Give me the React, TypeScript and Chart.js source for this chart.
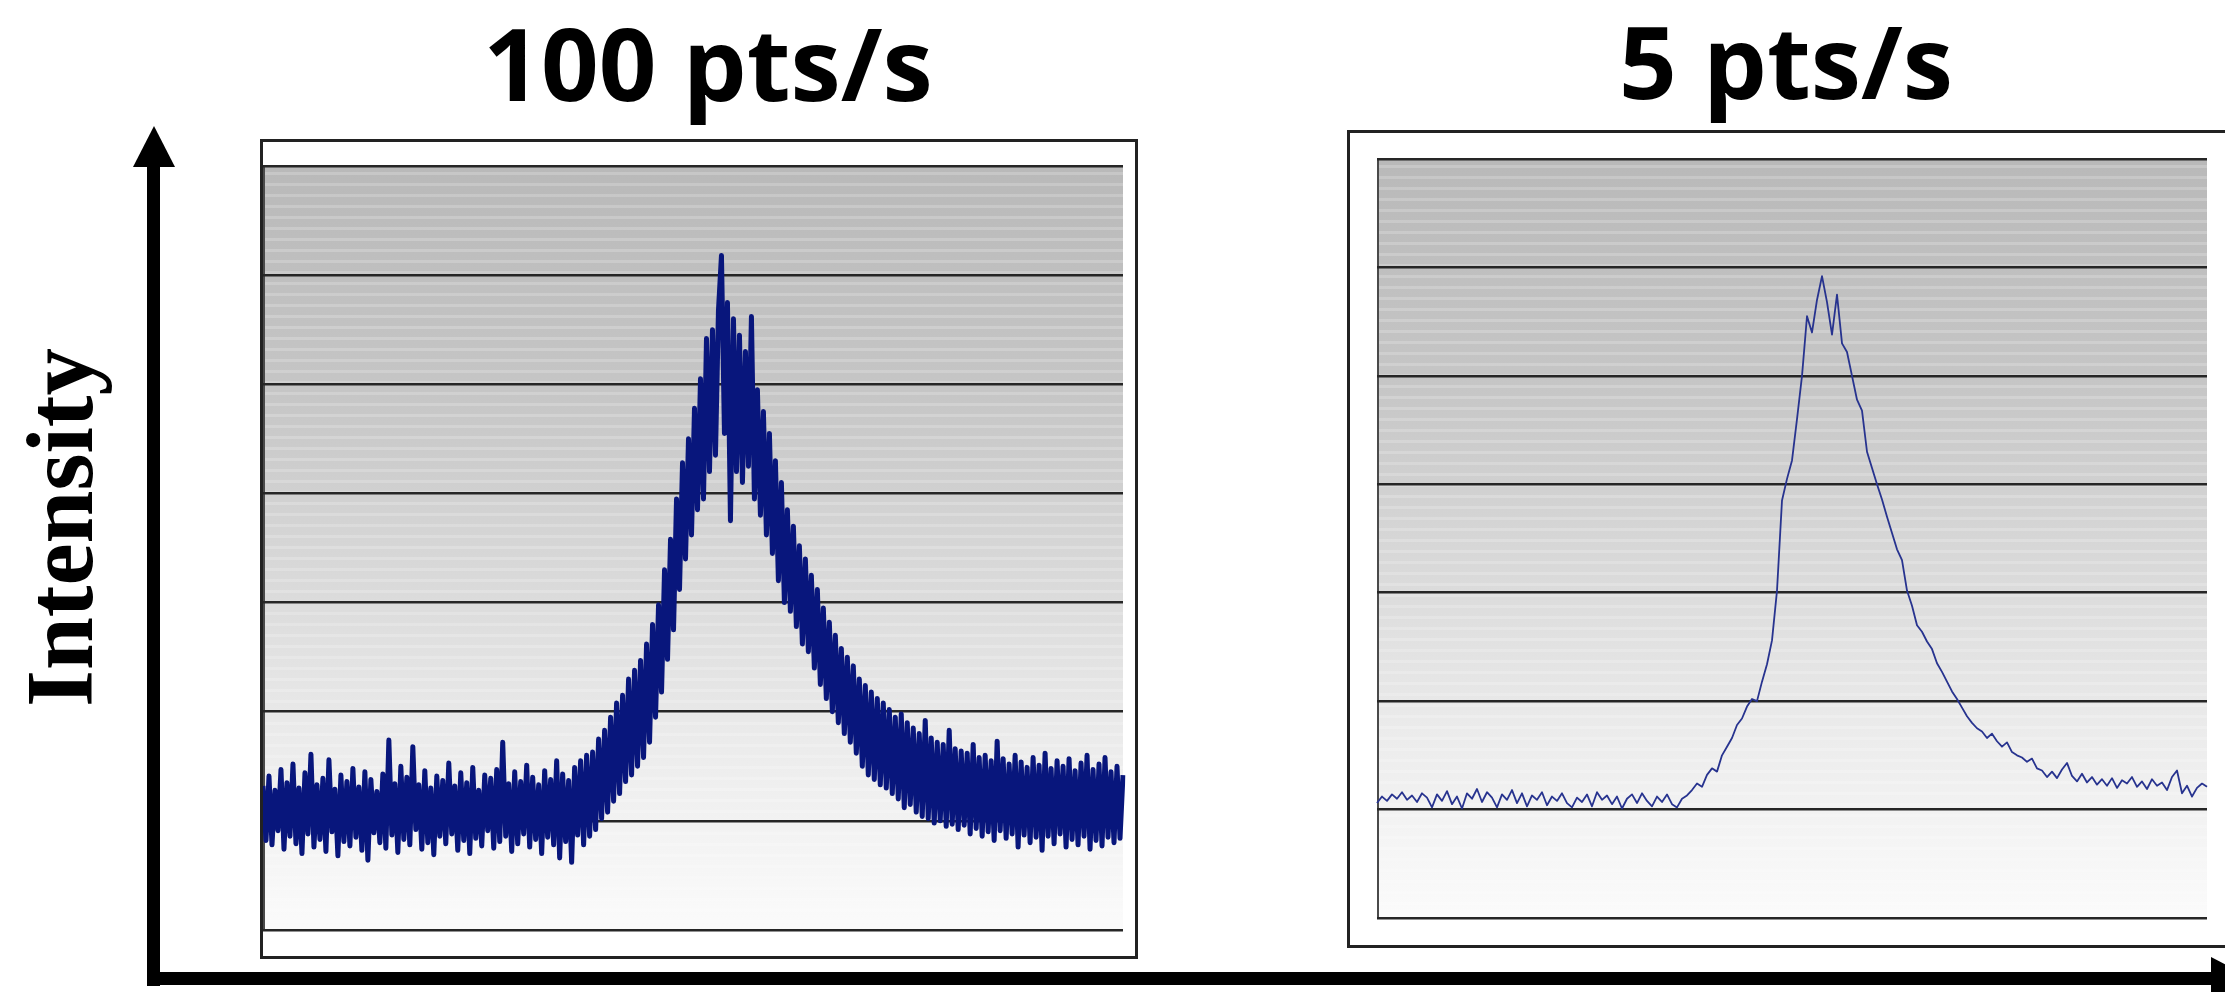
import React, { useEffect, useRef } from 'react';
import { Chart, registerables } from 'chart.js';

Chart.register(...registerables);

// ---------- data ----------
const Y_MIN = 0;
const Y_MAX = 7;
const FAST_TITLE = '100 pts/s';
const SLOW_TITLE = '5 pts/s';
const Y_LABEL = 'Intensity';

// 100 pts/s trace (intensity, arbitrary units, gridline = 1 unit)
const fastValues = [
  1.32, 0.82, 1.41, 0.78, 1.28, 0.91, 1.47, 0.74, 1.35, 0.86,
  1.52, 0.79, 1.30, 0.70, 1.44, 0.88, 1.61, 0.76, 1.33, 0.83,
  1.39, 0.72, 1.56, 0.90, 1.29, 0.68, 1.42, 0.81, 1.36, 0.77,
  1.48, 0.85, 1.31, 0.73, 1.45, 0.64, 1.38, 0.89, 1.27, 0.80,
  1.43, 0.75, 1.74, 0.87, 1.34, 0.71, 1.50, 0.83, 1.40, 0.78,
  1.68, 0.92, 1.33, 0.74, 1.46, 0.80, 1.30, 0.69, 1.41, 0.86,
  1.37, 0.79, 1.53, 0.88, 1.32, 0.73, 1.44, 0.82, 1.35, 0.70,
  1.49, 0.84, 1.28, 0.77, 1.42, 0.91, 1.39, 0.75, 1.47, 0.81,
  1.72, 0.86, 1.34, 0.72, 1.45, 0.79, 1.36, 0.88, 1.51, 0.76,
  1.40, 0.83, 1.33, 0.70, 1.46, 0.85, 1.38, 0.78, 1.55, 0.66,
  1.43, 0.81, 1.37, 0.62, 1.49, 0.87, 1.55, 0.78, 1.60, 0.86,
  1.63, 0.92, 1.75, 1.02, 1.83, 1.08, 1.95, 1.18, 2.08, 1.25,
  2.15, 1.36, 2.30, 1.42, 2.38, 1.50, 2.47, 1.58, 2.62, 1.72,
  2.80, 1.95, 2.98, 2.18, 3.30, 2.48, 3.58, 2.75, 3.95, 3.12,
  4.28, 3.40, 4.50, 3.62, 4.78, 3.85, 5.05, 3.95, 5.42, 4.20,
  5.50, 4.35, 5.68, 6.18, 4.55, 5.75, 3.75, 5.60, 4.20, 5.45,
  4.10, 5.30, 4.25, 5.62, 3.95, 4.95, 3.80, 4.75, 3.62, 4.55,
  3.45, 4.30, 3.20, 4.10, 3.00, 3.85, 2.92, 3.70, 2.78, 3.52,
  2.62, 3.40, 2.55, 3.25, 2.40, 3.12, 2.25, 2.95, 2.12, 2.82,
  2.00, 2.70, 1.90, 2.58, 1.80, 2.50, 1.72, 2.42, 1.62, 2.30,
  1.50, 2.24, 1.42, 2.18, 1.38, 2.12, 1.33, 2.08, 1.30, 2.02,
  1.25, 1.95, 1.20, 1.98, 1.12, 1.90, 1.15, 1.85, 1.08, 1.80,
  1.04, 1.92, 1.02, 1.76, 0.98, 1.72, 1.00, 1.70, 0.95, 1.83,
  0.97, 1.66, 0.92, 1.64, 0.96, 1.62, 0.88, 1.70, 0.93, 1.58,
  0.86, 1.60, 0.90, 1.55, 0.82, 1.73, 0.91, 1.57, 0.84, 1.52,
  0.88, 1.60, 0.76, 1.54, 0.87, 1.49, 0.80, 1.58, 0.85, 1.51,
  0.73, 1.62, 0.86, 1.48, 0.79, 1.55, 0.88, 1.50, 0.76, 1.57,
  0.83, 1.46, 0.78, 1.53, 0.86, 1.60, 0.74, 1.47, 0.82, 1.52,
  0.77, 1.58, 0.85, 1.45, 0.80, 1.50, 0.84, 1.42,
];

// 5 pts/s trace
const slowValues = [
  1.06, 1.12, 1.08, 1.14, 1.10, 1.16, 1.09, 1.13, 1.07, 1.15,
  1.11, 1.02, 1.14, 1.08, 1.17, 1.05, 1.12, 1.01, 1.15, 1.10,
  1.19, 1.07, 1.16, 1.11, 1.02, 1.14, 1.09, 1.18, 1.06, 1.15,
  1.03, 1.13, 1.09, 1.16, 1.04, 1.12, 1.08, 1.15, 1.06, 1.02,
  1.11, 1.07, 1.14, 1.03, 1.16, 1.09, 1.13, 1.05, 1.12, 1.01,
  1.10, 1.14, 1.06, 1.15, 1.08, 1.03, 1.12, 1.07, 1.14, 1.05,
  1.02, 1.10, 1.13, 1.18, 1.24, 1.21, 1.32, 1.38, 1.35, 1.50,
  1.58, 1.66, 1.78, 1.84, 1.95, 2.02, 2.00, 2.18, 2.34, 2.56,
  3.02, 3.85, 4.05, 4.22, 4.60, 5.00, 5.55, 5.40, 5.70, 5.92,
  5.68, 5.38, 5.75, 5.30, 5.22, 5.00, 4.78, 4.68, 4.30, 4.15,
  4.00, 3.86, 3.70, 3.55, 3.40, 3.30, 3.02, 2.88, 2.70, 2.64,
  2.55, 2.48, 2.35, 2.27, 2.18, 2.09, 2.02, 1.94, 1.86, 1.80,
  1.75, 1.72, 1.66, 1.70, 1.63, 1.58, 1.62, 1.53, 1.50, 1.48,
  1.44, 1.47, 1.38, 1.36, 1.30, 1.35, 1.29, 1.37, 1.43, 1.31,
  1.26, 1.33, 1.25, 1.30, 1.23, 1.28, 1.22, 1.29, 1.20, 1.27,
  1.24, 1.30, 1.21, 1.26, 1.19, 1.28, 1.22, 1.25, 1.18, 1.30,
  1.36, 1.15, 1.22, 1.12, 1.20, 1.24, 1.21,
];

// sample numbers (x categories)
const fastLabels = fastValues.map((_, i) => String(i));
const slowLabels = slowValues.map((_, i) => String(i));

// ---------- plugin: gradient plot background ----------
const panelBg = {
  id: 'panelBg',
  beforeDraw(chart: any) {
    const { ctx, chartArea: a } = chart;
    if (!a) return;
    ctx.save();
    const g = ctx.createLinearGradient(0, a.top, 0, a.bottom);
    g.addColorStop(0, '#b9b9b9');
    g.addColorStop(0.3, '#c6c6c6');
    g.addColorStop(0.55, '#dadada');
    g.addColorStop(0.75, '#ebebeb');
    g.addColorStop(1, '#fbfbfb');
    ctx.fillStyle = g;
    ctx.fillRect(a.left, a.top, a.right - a.left, a.bottom - a.top);
    ctx.fillStyle = 'rgba(255,255,255,0.20)';
    for (let y = a.top + 6; y < a.bottom; y += 11) {
      ctx.fillRect(a.left, y, a.right - a.left, 3);
    }
    ctx.strokeStyle = '#4a4a4a';
    ctx.lineWidth = 2;
    ctx.beginPath();
    ctx.moveTo(a.left + 1, a.top);
    ctx.lineTo(a.left + 1, a.bottom);
    ctx.stroke();
    ctx.restore();
  },
};

type PanelProps = {
  left: number;
  top: number;
  width: number;
  height: number;
  padding: { left: number; top: number; right: number; bottom: number };
  labels: string[];
  values: number[];
  color: string;
  lineWidth: number;
};

function Panel(p: PanelProps) {
  const ref = useRef<HTMLCanvasElement>(null);
  const cw = p.width - 6;
  const ch = p.height - 6;
  useEffect(() => {
    if (!ref.current) return;
    const chart = new Chart(ref.current, {
      type: 'line',
      data: {
        labels: p.labels,
        datasets: [
          {
            data: p.values,
            borderColor: p.color,
            borderWidth: p.lineWidth,
            borderJoinStyle: 'round',
            pointRadius: 0,
            tension: 0,
            fill: false,
          },
        ],
      },
      options: {
        animation: false,
        responsive: false,
        maintainAspectRatio: false,
        devicePixelRatio: 1,
        events: [],
        layout: { padding: p.padding },
        plugins: { legend: { display: false }, tooltip: { enabled: false }, title: { display: false } },
        scales: {
          x: { type: 'category', display: false, offset: false },
          y: {
            min: Y_MIN,
            max: Y_MAX,
            afterFit: (s: any) => {
              s.width = 0;
            },
            ticks: { display: false, stepSize: 1 },
            border: { display: false },
            grid: { color: '#262626', lineWidth: 2.5, drawTicks: false },
          },
        },
      } as any,
      plugins: [panelBg],
    });
    return () => chart.destroy();
  }, []);
  return (
    <div
      style={{
        position: 'absolute',
        left: p.left,
        top: p.top,
        width: p.width,
        height: p.height,
        boxSizing: 'border-box',
        border: '3px solid #222',
        background: '#fff',
      }}
    >
      <canvas ref={ref} width={cw} height={ch} style={{ display: 'block', width: cw, height: ch }} />
    </div>
  );
}

const titleStyle: React.CSSProperties = {
  position: 'absolute',
  width: 800,
  textAlign: 'center',
  fontFamily: "'Open Sans', sans-serif",
  fontWeight: 700,
  fontSize: 101,
  lineHeight: '101px',
  color: '#000',
  whiteSpace: 'nowrap',
};

export default function App() {
  return (
    <div
      style={{
        position: 'absolute',
        left: 0,
        top: 0,
        width: 2225,
        height: 992,
        overflow: 'hidden',
        background: '#fff',
      }}
    >
      <div style={{ ...titleStyle, left: 308, top: 12 }}>{FAST_TITLE}</div>
      <div style={{ ...titleStyle, left: 1386, top: 10 }}>{SLOW_TITLE}</div>
      <div
        style={{
          position: 'absolute',
          left: -190,
          top: 480,
          width: 500,
          height: 95,
          lineHeight: '95px',
          textAlign: 'center',
          fontFamily: "'Liberation Serif', 'Times New Roman', serif",
          fontWeight: 700,
          fontSize: 95,
          color: '#000',
          transform: 'rotate(-90deg)',
          transformOrigin: '50% 50%',
          whiteSpace: 'nowrap',
        }}
      >
        {Y_LABEL}
      </div>
      <Panel
        left={260}
        top={139}
        width={878}
        height={820}
        padding={{ left: 0, top: 24, right: 12, bottom: 26 }}
        labels={fastLabels}
        values={fastValues}
        color="#08167c"
        lineWidth={5}
      />
      <Panel
        left={1347}
        top={130}
        width={900}
        height={818}
        padding={{ left: 27, top: 26, right: 37, bottom: 27 }}
        labels={slowLabels}
        values={slowValues}
        color="#27338f"
        lineWidth={1.8}
      />
      <svg
        width={2225}
        height={992}
        style={{ position: 'absolute', left: 0, top: 0, pointerEvents: 'none' }}
      >
        <rect x={147} y={160} width={13} height={826} fill="#000" />
        <polygon points="133,167 175,167 154,126" fill="#000" />
        <rect x={147} y={972} width={2070} height={13} fill="#000" />
        <polygon points="2211,957 2211,1000 2252,978" fill="#000" />
      </svg>
    </div>
  );
}
